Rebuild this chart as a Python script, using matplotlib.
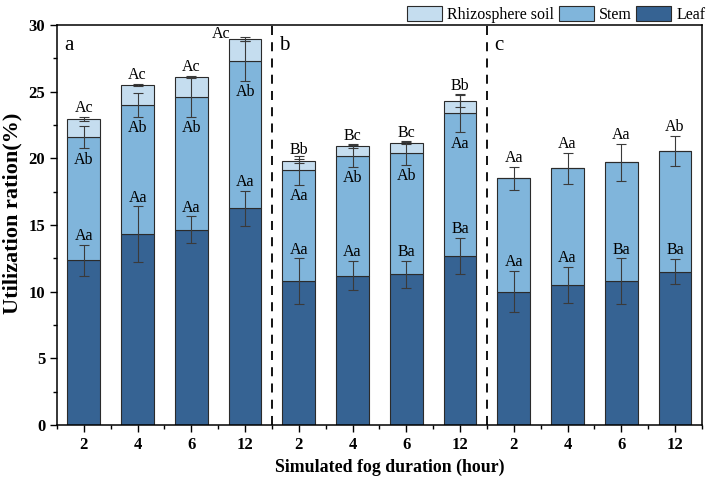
import matplotlib
matplotlib.use("Agg")
import matplotlib.pyplot as plt
from matplotlib.ticker import MultipleLocator
import numpy as np

plt.rcParams['font.family'] = ['Liberation Serif', 'DejaVu Serif']

durations = ['2', '4', '6', '12'] * 3
leaf = [12.35, 14.3, 14.65, 16.25, 10.8, 11.2, 11.3, 12.7, 10.0, 10.5, 10.8, 11.5]
leaf_err = [1.15, 2.1, 1.0, 1.3, 1.7, 1.1, 1.0, 1.35, 1.55, 1.35, 1.7, 0.95]
stem_top = [21.6, 24.0, 24.6, 27.3, 19.1, 20.2, 20.4, 23.4, 18.5, 19.25, 19.7, 20.55]
stem_err = [0.85, 0.9, 1.5, 1.5, 1.1, 0.85, 0.9, 1.45, 0.85, 1.15, 1.4, 1.15]
total = [22.95, 25.5, 26.1, 28.95, 19.8, 20.9, 21.15, 24.3, 18.5, 19.25, 19.7, 20.55]
soil_err = [0.15, 0.08, 0.08, 0.12, 0.15, 0.1, 0.1, 0.45, 0, 0, 0, 0]
leaf_lbl = ['Aa', 'Aa', 'Aa', 'Aa', 'Aa', 'Aa', 'Ba', 'Ba', 'Aa', 'Aa', 'Ba', 'Ba']
stem_lbl = ['Ab', 'Ab', 'Ab', 'Ab', 'Aa', 'Ab', 'Ab', 'Aa', 'Aa', 'Aa', 'Aa', 'Ab']
soil_lbl = ['Ac', 'Ac', 'Ac', 'Ac', 'Bb', 'Bc', 'Bc', 'Bb', '', '', '', '']
panels = ['a', 'b', 'c']

c_leaf = '#366393'
c_stem = '#80b5db'
c_soil = '#c5ddef'
edge = '#2b2b2b'

fig = plt.figure(figsize=(7.09, 4.88), dpi=100)
ax = fig.add_axes([0.0804, 0.129, 0.9096, 0.8198])

x = np.arange(len(leaf))
leaf = np.array(leaf); stem_top = np.array(stem_top); total = np.array(total)
stem_seg = stem_top - leaf
soil_seg = total - stem_top
w = 0.61

ax.bar(x, leaf, w, color=c_leaf, edgecolor=edge, linewidth=0.8, label='Leaf', zorder=2)
ax.bar(x, stem_seg, w, bottom=leaf, color=c_stem, edgecolor=edge, linewidth=0.8, label='Stem', zorder=2)
ax.bar(x, soil_seg, w, bottom=stem_top, color=c_soil, edgecolor=edge, linewidth=0.8,
       label='Rhizosphere soil', zorder=2)

ekw = dict(fmt='none', ecolor='#3a3a3a', elinewidth=0.8, capsize=3.6, capthick=0.8, zorder=3)
ax.errorbar(x, leaf, yerr=leaf_err, **ekw)
ax.errorbar(x, stem_top, yerr=stem_err, **ekw)
m = np.array(soil_err) > 0
ax.errorbar(x[m], total[m], yerr=np.array(soil_err)[m], **ekw)

fs = 11.5
for i in range(len(x)):
    ax.text(x[i], leaf[i] + leaf_err[i] + 0.05, leaf_lbl[i], ha='center', va='bottom', fontsize=fs)
    if soil_lbl[i]:
        ax.text(x[i], stem_top[i] - stem_err[i] - 0.25, stem_lbl[i], ha='center', va='top', fontsize=fs)
        if i == 3:
            ax.text(x[i] - 0.45, 28.75, soil_lbl[i], ha='center', va='bottom', fontsize=fs)
        else:
            ax.text(x[i], total[i] + soil_err[i] + 0.05, soil_lbl[i], ha='center', va='bottom', fontsize=fs)
    else:
        ax.text(x[i], stem_top[i] + stem_err[i] + 0.05, stem_lbl[i], ha='center', va='bottom', fontsize=fs)

for xv in [3.5, 7.5]:
    ax.axvline(xv, color='black', linestyle=(0, (5, 4)), linewidth=1.3, zorder=1)

for j, p in enumerate(panels):
    ax.text(-0.37 + 4 * j, 28.45, p, ha='left', va='center', fontsize=15)

ax.set_xlim(-0.5, 11.5)
ax.set_ylim(0, 30)
ax.set_xticks(x)
ax.set_xticklabels(durations, fontweight='bold', fontsize=12)
ax.xaxis.set_minor_locator(MultipleLocator(0.5))
ax.yaxis.set_major_locator(MultipleLocator(5))
ax.yaxis.set_minor_locator(MultipleLocator(2.5))
for lbl in ax.get_yticklabels():
    lbl.set_fontweight('bold'); lbl.set_fontsize(12)
ax.tick_params(axis='both', which='major', direction='out', length=5, width=1)
ax.tick_params(axis='both', which='minor', direction='out', length=3, width=1)
for s in ax.spines.values():
    s.set_linewidth(1.1)

ax.set_xlabel('Simulated fog duration (hour)', fontweight='bold', fontsize=12.8)
ax.xaxis.set_label_coords(0.516, -0.083)
ax.set_ylabel('Utilization ration(%)', fontweight='bold', fontsize=16)
ax.yaxis.set_label_coords(-0.054, 0.53)

h, l = ax.get_legend_handles_labels()
order = [2, 1, 0]
ax.legend([h[k] for k in order], [l[k] for k in order], ncol=3, frameon=False,
          loc='lower right', bbox_to_anchor=(1.009, 1.0), fontsize=11.5,
          handlelength=2.2, handleheight=1.05, columnspacing=0.3, handletextpad=0.3,
          borderaxespad=0, borderpad=0.15)

fig.savefig('out.png', dpi=100)
